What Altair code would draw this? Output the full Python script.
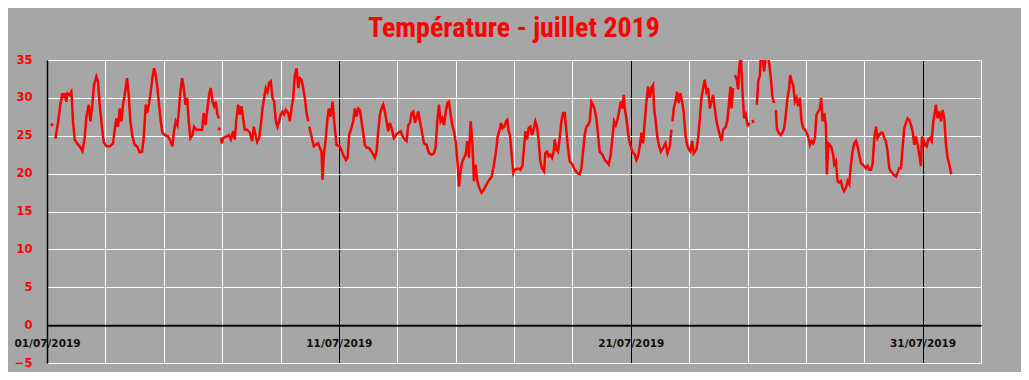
import altair as alt
import pandas as pd

# fractional days since 01/07/2019 00:00, None = break in the record
day = [
    0.171, None,
    0.286, 0.377, 0.457, 0.526, 0.571, 0.606, 0.663, 0.697, 0.777, 0.834, 0.857, 0.891, 0.949,
    1.029, 1.12, 1.211, 1.291, 1.349, 1.429, 1.486, 1.554, 1.611, 1.691, 1.749, 1.806, 1.886, 1.943,
    2.034, 2.149, 2.263, 2.32, 2.377, 2.434, 2.491, 2.549, 2.606, 2.663, 2.743, 2.8, 2.857, 2.926,
    3.006, 3.086, 3.177, 3.257, 3.314, 3.383, 3.429, 3.497, 3.554, 3.611, 3.669, 3.726, 3.783, 3.84, 3.897, 3.954,
    4.034, 4.149, 4.206, 4.297, 4.343, 4.411, 4.469, 4.526, 4.571, 4.629, 4.686, 4.743, 4.8, 4.857, 4.914, 4.983,
    5.04, 5.12, 5.234, 5.314, 5.371, 5.429, 5.497, 5.554, 5.611, 5.669, 5.726, 5.783, 5.829, 5.886, None,
    5.9, None,
    5.954, 5.989, 6.034, 6.149, 6.229, 6.297, 6.377, 6.434, 6.491, 6.549, 6.606, 6.663, 6.72, 6.777, 6.857, 6.949,
    7.029, 7.086, 7.143, 7.2, 7.269, 7.326, 7.383, 7.44, 7.497, 7.554, 7.611, 7.669, 7.726, 7.783, 7.84, 7.897, 7.954,
    8.011, 8.069, 8.126, 8.183, 8.263, 8.32, 8.377, 8.434, 8.491, 8.549, 8.606, 8.663, 8.72, 8.777, 8.834, 8.891, 8.949, None,
    8.983, 9.063, 9.143, 9.211, 9.291, 9.349, 9.406, 9.44, 9.486, 9.543, 9.6, 9.657, 9.714, 9.783, 9.829, 9.886, 9.92,
    10.034, 10.149, 10.24, 10.297, 10.354, 10.411, 10.491, 10.549, 10.606, 10.663, 10.72, 10.777, 10.834, 10.891, 10.949,
    11.029, 11.12, 11.234, 11.291, 11.349, 11.406, 11.463, 11.52, 11.577, 11.634, 11.691, 11.749, 11.806, 11.886, 11.954,
    12.034, 12.114, 12.183, 12.263, 12.32, 12.377, 12.434, 12.491, 12.549, 12.606, 12.663, 12.72, 12.777, 12.834, 12.914,
    13.006, 13.086, 13.177, 13.257, 13.314, 13.371, 13.429, 13.486, 13.543, 13.6, 13.657, 13.714, 13.771, 13.829, 13.886, 13.943,
    14.011, 14.069, 14.114, 14.171, 14.229, 14.286, 14.343, 14.4, 14.457, 14.514, 14.571, 14.629, 14.686, 14.743, 14.811, 14.891, 14.971,
    15.063, 15.154, 15.234, 15.314, 15.383, 15.44, 15.497, 15.554, 15.611, 15.669, 15.726, 15.771, 15.817, 15.863, 15.92, 15.977,
    16.023, 16.137, 16.217, 16.286, 16.331, 16.389, 16.446, 16.503, 16.56, 16.617, 16.674, 16.731, 16.789, 16.846, 16.903, 16.96,
    17.029, 17.074, 17.131, 17.189, 17.246, 17.303, 17.36, 17.394, 17.451, 17.509, 17.566, 17.623, 17.68, 17.737, 17.794, 17.851, 17.909,
    18.0, 18.08, 18.16, 18.251, 18.309, 18.366, 18.423, 18.48, 18.537, 18.594, 18.651, 18.709, 18.766, 18.823, 18.88, 18.937,
    19.029, 19.109, 19.166, 19.246, 19.314, 19.371, 19.429, 19.486, 19.543, 19.6, 19.657, 19.714, 19.76, 19.794, 19.851, 19.909, 19.966,
    20.057, 20.137, 20.194, 20.251, 20.309, 20.366, 20.423, 20.48, 20.537, 20.594, 20.651, 20.709, 20.766, 20.8, 20.846, 20.903, 20.96,
    21.029, 21.109, 21.189, 21.257, 21.337, 21.394, None,
    21.429, 21.474, 21.531, 21.589, 21.646, 21.703, 21.76, 21.817, 21.874, 21.931, 21.989,
    22.046, 22.103, 22.16, 22.251, 22.309, 22.366, 22.423, 22.48, 22.537, 22.594, 22.651, 22.709, 22.766, 22.823, 22.88, 22.937, 22.994,
    23.051, 23.109, 23.166, 23.257, 23.314, 23.371, 23.417, 23.451, 23.509, None,
    23.566, 23.623, 23.68, 23.714, 23.771, 23.829, 23.886, 23.943, 24.0, 24.023, 24.08, None,
    24.171, 24.206, None,
    24.32, 24.366, 24.423, 24.457, 24.514, 24.571, 24.629, 24.686, 24.743, 24.8, 24.857, 24.914, None,
    24.971, 25.006, 25.063, 25.143, 25.2, 25.257, 25.314, 25.371, 25.429, 25.463, 25.52, 25.566, 25.623, 25.68, 25.737, 25.794, 25.851, 25.909,
    26.0, 26.08, 26.137, 26.194, 26.251, 26.309, 26.366, 26.423, 26.48, 26.526, 26.571, 26.629, 26.686, 26.72, 26.766, 26.823, 26.88, 26.937, 26.971,
    27.029, 27.086, 27.143, 27.2, 27.257, 27.314, 27.371, 27.429, 27.486, 27.543, 27.6, 27.657, 27.714, 27.771, 27.829, 27.886, 27.943,
    28.0, 28.057, 28.114, 28.171, 28.229, 28.286, 28.343, 28.4, 28.457, 28.514, 28.571, 28.629, 28.686, 28.743, 28.8, 28.857, 28.914, 28.994,
    29.086, 29.143, 29.2, 29.257, 29.314, 29.371, 29.429, 29.486, 29.543, 29.6, 29.657, 29.714, 29.771, 29.829, 29.886, 29.943, 29.977,
    30.023, 30.08, 30.137, 30.194, 30.251, 30.309, 30.366, 30.423, 30.457, 30.514, 30.571, 30.629, 30.686, 30.743, 30.8, 30.857, 30.914, 30.971,
    31.006,
]

temp = [
    26.45, None,
    24.6, 26.7, 29.1, 30.6, 30.0, 30.6, 29.5, 30.6, 30.4, 30.8, 29.5, 26.9, 24.5,
    24.0, 23.6, 23.0, 24.7, 27.5, 29.1, 26.9, 29.1, 31.7, 32.8, 32.1, 29.1, 26.0, 24.2,
    23.6, 23.6, 24.0, 25.8, 27.3, 26.2, 28.6, 26.9, 29.1, 30.4, 32.6, 30.4, 26.9, 24.9,
    23.8, 23.6, 22.8, 22.9, 24.7, 29.1, 28.0, 29.3, 30.8, 32.6, 33.9, 33.0, 31.3, 29.1, 26.9, 25.4,
    25.1, 24.9, 24.5, 23.6, 25.4, 26.9, 26.4, 28.6, 30.8, 32.6, 31.3, 29.1, 30.0, 26.9, 24.7, 25.1,
    26.2, 25.8, 25.8, 25.8, 28.0, 26.4, 28.6, 30.4, 31.3, 29.5, 28.9, 29.5, 28.0, 27.3, None,
    25.9, None,
    24.7, 24.0, 24.7, 24.9, 25.1, 24.5, 25.6, 24.5, 27.3, 29.1, 27.8, 28.9, 27.3, 25.8, 25.8, 25.4,
    24.3, 26.2, 25.1, 24.2, 24.7, 26.4, 28.6, 30.0, 31.3, 30.8, 32.0, 32.2, 30.0, 29.5, 26.9, 26.2, 26.9,
    27.8, 28.2, 27.8, 28.4, 28.0, 26.9, 28.6, 30.0, 33.0, 33.9, 31.3, 32.6, 32.4, 31.3, 30.0, 28.0, 26.9, None,
    26.2, 24.9, 23.6, 23.8, 24.0, 23.4, 22.9, 19.2, 22.5, 24.3, 26.9, 28.6, 27.5, 29.5, 27.3, 25.1, 23.8,
    23.6, 22.5, 21.8, 22.1, 25.1, 25.8, 26.9, 28.6, 27.5, 28.6, 28.4, 26.9, 25.4, 23.8, 23.4,
    23.4, 22.9, 22.1, 22.9, 25.6, 27.8, 28.6, 29.1, 28.2, 26.9, 25.6, 26.7, 26.0, 24.7, 25.1,
    25.4, 25.6, 24.9, 24.5, 24.3, 26.4, 26.7, 28.0, 28.2, 26.7, 27.5, 28.2, 26.9, 25.8, 24.0,
    23.8, 22.7, 22.5, 22.7, 23.4, 26.9, 29.1, 26.9, 27.3, 26.4, 28.0, 29.3, 29.5, 27.8, 26.4, 25.6,
    24.0, 21.2, 18.3, 20.3, 21.6, 22.1, 22.5, 24.3, 22.1, 26.9, 24.3, 19.0, 21.2, 19.0, 18.1, 17.5, 17.9,
    18.6, 19.2, 19.6, 21.2, 22.9, 24.9, 25.6, 26.7, 26.0, 26.2, 26.9, 27.1, 25.6, 25.1, 22.5, 20.1,
    20.5, 20.7, 20.5, 21.0, 22.9, 25.6, 24.5, 26.0, 26.2, 25.1, 25.8, 26.9, 26.2, 24.3, 21.6, 20.7,
    20.3, 22.7, 22.9, 22.3, 22.5, 22.1, 22.9, 24.5, 23.2, 22.9, 24.7, 26.9, 28.0, 28.0, 25.6, 23.4, 21.6,
    21.2, 20.5, 20.1, 19.9, 20.7, 22.9, 25.1, 26.2, 26.4, 26.9, 29.5, 29.1, 28.4, 27.3, 25.1, 22.9,
    22.5, 21.8, 21.6, 21.2, 22.5, 24.7, 26.9, 26.4, 27.1, 28.2, 29.5, 28.6, 30.4, 28.6, 27.3, 25.4, 24.0,
    22.9, 22.5, 21.8, 22.3, 23.6, 25.4, 24.0, 26.9, 29.5, 31.5, 30.0, 31.3, 31.7, 28.6, 27.3, 25.1, 23.8,
    22.9, 23.4, 24.0, 22.7, 23.6, 25.8, None,
    26.9, 28.6, 29.5, 30.8, 29.3, 30.6, 29.5, 28.0, 25.1, 23.8, 23.2,
    22.9, 24.3, 22.7, 23.2, 24.7, 27.3, 30.0, 31.3, 32.4, 30.8, 31.3, 28.6, 29.5, 30.4, 28.6, 26.9, 26.0,
    25.1, 24.3, 25.8, 26.2, 27.1, 29.5, 31.5, 28.6, 31.3, None,
    33.0, 32.6, 31.1, 33.9, 35.8, 30.8, 27.3, 27.8, 26.4, 26.4, 26.7, None,
    27.1, 26.7, None,
    29.1, 32.1, 33.0, 35.8, 35.5, 33.5, 35.8, 35.6, 34.6, 32.6, 30.0, 29.3, None,
    28.4, 26.0, 25.4, 25.1, 25.4, 26.0, 27.8, 30.0, 31.3, 33.0, 32.1, 31.7, 29.5, 30.0, 28.9, 30.0, 26.9, 26.0,
    25.6, 24.9, 23.8, 24.3, 24.0, 24.7, 27.8, 28.2, 28.6, 30.0, 26.9, 28.0, 26.4, 19.9, 24.0, 23.8, 23.4, 22.5, 21.2,
    21.6, 19.0, 18.8, 19.0, 18.1, 17.7, 18.1, 19.0, 18.6, 21.2, 22.9, 24.0, 24.3, 23.6, 22.5, 21.4, 21.2,
    21.0, 20.7, 21.0, 20.5, 20.5, 21.2, 24.7, 26.2, 24.7, 25.1, 25.4, 25.4, 24.7, 24.3, 22.9, 20.7, 20.3, 19.9,
    19.6, 20.1, 20.7, 20.7, 23.4, 26.0, 26.7, 27.3, 27.1, 26.4, 25.6, 23.8, 24.9, 23.8, 22.5, 21.0, 24.9,
    24.5, 23.8, 23.6, 24.5, 24.7, 24.3, 26.9, 28.2, 29.1, 27.3, 28.2, 26.9, 28.4, 27.3, 23.8, 22.1, 21.2, 20.1,
    20.2,
]

y_ticks = [-5, 0, 5, 10, 15, 20, 25, 30, 35]
x_grid_days = list(range(1, 32, 2))  # odd days of July, plus 2 August

# ---- build table: split into continuous segments ----
rows = []
seg = 0
for d, t in zip(day, temp):
    if d is None or t is None:
        seg += 1
        continue
    rows.append({"t": pd.Timestamp("2019-07-01") + pd.to_timedelta(d, unit="D"), "temp": t, "seg": seg})
df = pd.DataFrame(rows)
df["n"] = df.groupby("seg")["temp"].transform("size")

grid_values = [alt.DateTime(year=2019, month=7, date=d) for d in x_grid_days] + [
    alt.DateTime(year=2019, month=8, date=2)
]

x_enc = alt.X(
    "t:T",
    title=None,
    scale=alt.Scale(
        domain=[alt.DateTime(year=2019, month=7, date=1), alt.DateTime(year=2019, month=8, date=2)]
    ),
    axis=alt.Axis(
        values=grid_values,
        labelExpr="(date(datum.value) % 10 == 1 && month(datum.value) == 6) ? timeFormat(datum.value, '%d/%m/%Y') : ''",
        offset=-37.875,
        ticks=False,
        tickSize=0,
        labelPadding=13,
        labelBaseline="top",
        labelAlign="center",
        labelFont="DejaVu Sans",
        labelFontWeight="bold",
        labelFontSize=10.5,
        labelColor="#111111",
        labelOverlap=False,
        labelFlush=False,
        labelBound=False,
        domainColor="black",
        domainWidth=2,
        grid=True,
        gridColor=alt.condition(
            "date(datum.value) % 10 == 1 && month(datum.value) == 6", alt.value("black"), alt.value("white")
        ),
        gridWidth=1,
        gridOpacity=1,
    ),
)

y_enc = alt.Y(
    "temp:Q",
    title=None,
    scale=alt.Scale(domain=[-5, 35], nice=False, zero=False),
    axis=alt.Axis(
        values=y_ticks,
        ticks=False,
        tickSize=0,
        labelPadding=15,
        labelAlign="right",
        labelBaseline="middle",
        labelFont="DejaVu Sans",
        labelFontWeight="bold",
        labelFontSize=11.5,
        labelColor="#FF0000",
        labelOverlap=False,
        labelFlush=False,
        labelBound=False,
        domainColor="black",
        domainWidth=1.5,
        grid=True,
        gridColor=alt.condition("datum.value == 0", alt.value("black"), alt.value("white")),
        gridWidth=1,
        gridOpacity=1,
    ),
)

base = alt.Chart(df).encode(x=x_enc, y=y_enc)

line = base.mark_line(color="#FF0000", strokeWidth=2.5, clip=True).encode(detail="seg:N")
dots = base.transform_filter("datum.n == 1").mark_circle(color="#FF0000", size=10, opacity=1, clip=True)

chart = (
    alt.layer(line, dots)
    .properties(
        width=934,
        height=303,
        title=alt.TitleParams(
            "Température - juillet 2019",
            color="#FF0000",
            font="Liberation Sans Narrow, Roboto Condensed, Liberation Sans, sans-serif",
            fontWeight="bold",
            fontSize=28,
            anchor="middle",
            baseline="alphabetic",
            frame="group",
            offset=-11,
        ),
        background="#A6A6A6",
        padding={"left": 39, "top": 52, "right": 40, "bottom": 9},
        autosize=alt.AutoSizeParams(type="none"),
    )
    .configure_view(strokeOpacity=0, fill="#A6A6A6")
)

chart.save("out.html", embed_options={"renderer": "svg", "actions": False})
